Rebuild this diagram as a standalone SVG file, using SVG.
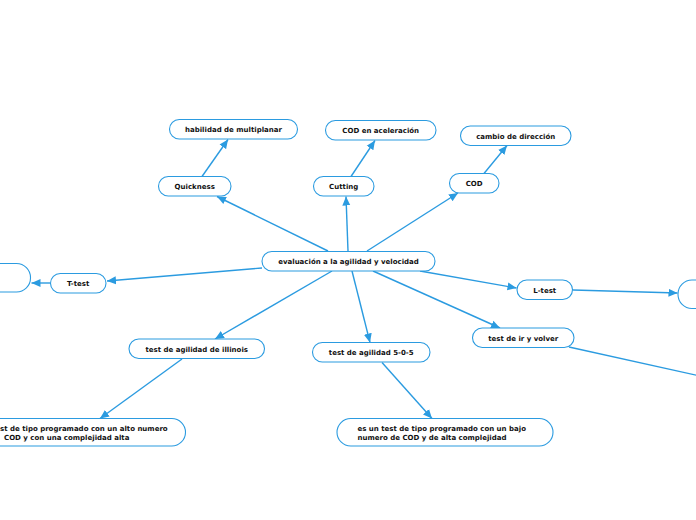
<svg xmlns="http://www.w3.org/2000/svg" width="696" height="520" viewBox="0 0 696 520">
<defs>
<style>
.n rect{fill:#fff;stroke:#2B9BE0;stroke-width:1.1}
.n text{font-family:"DejaVu Sans","Liberation Sans",sans-serif;font-weight:bold;font-size:7px;fill:#111}
.c{text-anchor:middle}
#edges line{stroke:#2B9BE0;stroke-width:1.4;fill:none}
.a{marker-end:url(#arr)}
</style>
<marker id="arr" markerUnits="userSpaceOnUse" markerWidth="10" markerHeight="10" viewBox="0 0 10 10" refX="9" refY="5" orient="auto">
<path d="M0,1 L9,5 L0,9 Z" fill="#2B9BE0"/>
</marker>
</defs>
<rect width="696" height="520" fill="#fff"/>
<g id="edges">
<line class="a" x1="328" y1="251" x2="217" y2="196.5"/>
<line class="a" x1="348" y1="251" x2="346" y2="196.5"/>
<line class="a" x1="367" y1="251" x2="458" y2="193"/>
<line class="a" x1="262" y1="268" x2="107" y2="281"/>
<line class="a" x1="50" y1="283" x2="31.5" y2="283"/>
<line class="a" x1="420" y1="271" x2="516.5" y2="288"/>
<line class="a" x1="573" y1="290" x2="677.5" y2="293"/>
<line class="a" x1="373" y1="271" x2="500" y2="328"/>
<line class="a" x1="332" y1="271" x2="215" y2="339"/>
<line class="a" x1="352" y1="271" x2="370" y2="342.5"/>
<line class="a" x1="202" y1="176.5" x2="228" y2="139.5"/>
<line class="a" x1="351" y1="176.5" x2="375" y2="140.5"/>
<line class="a" x1="484" y1="173.5" x2="507" y2="145.5"/>
<line class="a" x1="182" y1="359" x2="100" y2="418.5"/>
<line class="a" x1="382" y1="362.5" x2="432" y2="418.5"/>
<line x1="569" y1="347" x2="700" y2="376"/>
</g>
<g id="center" class="n"><rect x="262" y="251.5" width="173" height="19.5" rx="9.75"/><text class="c" x="348.5" y="264">evaluación a la agilidad y velocidad</text></g>
<g id="quickness" class="n"><rect x="158.5" y="176.5" width="72.5" height="19.5" rx="9.75"/><text class="c" x="194.7" y="189">Quickness</text></g>
<g id="multiplanar" class="n"><rect x="169.5" y="119.5" width="128" height="19.5" rx="9.75"/><text class="c" x="233.5" y="132">habilidad de multiplanar</text></g>
<g id="cutting" class="n"><rect x="313.5" y="176.5" width="60.5" height="19.5" rx="9.75"/><text class="c" x="343.7" y="189">Cutting</text></g>
<g id="codacel" class="n"><rect x="325.5" y="120.5" width="110.5" height="19.5" rx="9.75"/><text class="c" x="380.7" y="133">COD en aceleración</text></g>
<g id="cod" class="n"><rect x="449.5" y="173.5" width="49.5" height="19.5" rx="9.75"/><text class="c" x="474.2" y="186">COD</text></g>
<g id="cambio" class="n"><rect x="460.5" y="126" width="110.5" height="19.5" rx="9.75"/><text class="c" x="515.7" y="138.5">cambio de dirección</text></g>
<g id="ttest" class="n"><rect x="50.5" y="273.5" width="55.5" height="19.5" rx="9.75"/><text class="c" x="78.2" y="286">T-test</text></g>
<g id="tleft" class="n"><rect x="-60" y="263.5" width="90.5" height="28.5" rx="14"/></g>
<g id="ltest" class="n"><rect x="517" y="280" width="55.5" height="19.5" rx="9.75"/><text class="c" x="544.7" y="292.5">L-test</text></g>
<g id="lright" class="n"><rect x="678" y="280" width="80" height="28.5" rx="14"/></g>
<g id="irvolver" class="n"><rect x="472.5" y="328" width="101.5" height="19.5" rx="9.75"/><text class="c" x="523.2" y="340.5">test de ir y volver</text></g>
<g id="illinois" class="n"><rect x="129" y="339" width="135.5" height="19.5" rx="9.75"/><text class="c" x="196.7" y="351.5">test de agilidad de illinois</text></g>
<g id="t505" class="n"><rect x="312.5" y="342.5" width="117.5" height="19.5" rx="9.75"/><text class="c" x="371.2" y="355">test de agilidad 5-0-5</text></g>
<g id="illdesc" class="n"><rect x="-100" y="418.5" width="285.5" height="27.5" rx="13.75"/><text x="0" y="431">st de tipo programado con un alto numero</text><text x="4" y="439.5">COD y con una complejidad alta</text></g>
<g id="desc505" class="n"><rect x="337" y="418.5" width="216" height="27.5" rx="13.75"/><text x="357.5" y="431">es un test de tipo programado con un bajo</text><text x="357.5" y="439.5">numero de COD y de alta complejidad</text></g>
</svg>
